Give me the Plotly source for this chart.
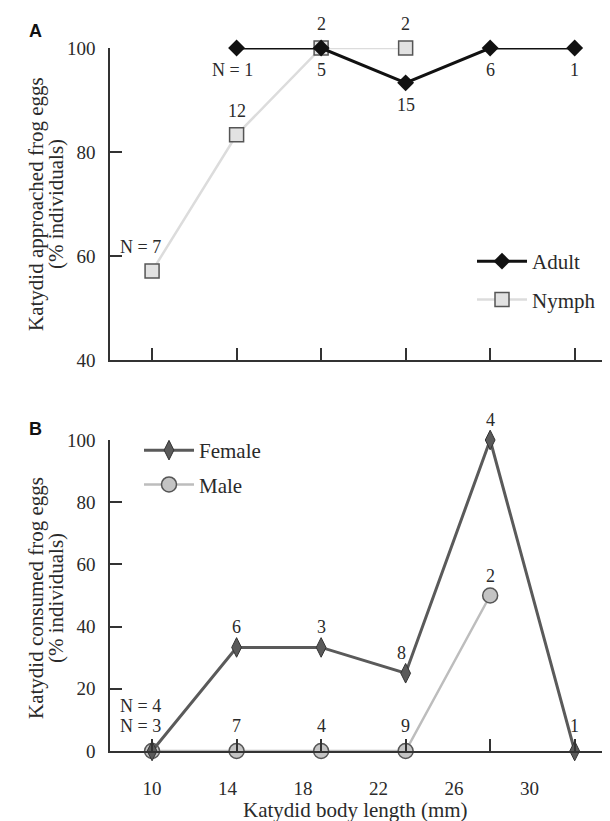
import plotly.graph_objects as go

# ---- data ----
size_pos = [10, 14.48, 18.96, 23.44, 27.92, 32.40]      # x positions of the size classes (mm scale)
tick_mm = [10, 14, 18, 22, 26, 30]                     # x tick labels (panel B)

adult_pct = [None, 100, 100, 93.3, 100, 100]
adult_n = [None, "N = 1", "5", "15", "6", "1"]
nymph_pct = [57.1, 83.3, 100, 100, None, None]
nymph_n = ["N = 7", "12", "2", "2", None, None]

female_pct = [0, 33.3, 33.3, 25, 100, 0]
female_n = ["N = 4", "6", "3", "8", "4", "1"]
male_pct = [0, 0, 0, 0, 50, None]
male_n = ["N = 3", "7", "4", "9", "2", None]

FONT = "Liberation Serif, Times New Roman, serif"
TXT = "#2a2a2a"
AX = "#333333"

W, H = 610, 821
L, R, T, B = 102, 2, 40, 78
PH = H - T - B  # 703

def py(y):  # pixel y -> paper
    return (H - B - y) / PH

def px(x):
    return (x - L) / (W - L - R)

fig = go.Figure()

# Panel A
fig.add_trace(go.Scatter(x=size_pos, y=nymph_pct, name="Nymph\u00a0\u00a0\u00a0", mode="lines+markers",
                         line=dict(color="#dcdcdc", width=2.5),
                         marker=dict(symbol="square", size=14, color="#e2e2e2", line=dict(color="#555", width=1.5)),
                         xaxis="x", yaxis="y", legend="legend", legendrank=2, legendgroup="n", cliponaxis=False))
fig.add_trace(go.Scatter(x=size_pos, y=adult_pct, name="Adult", mode="lines+markers",
                         line=dict(color="#111111", width=3),
                         marker=dict(symbol="diamond", size=13, color="#111111"),
                         xaxis="x", yaxis="y", legend="legend", legendrank=1, legendgroup="a", cliponaxis=False))

# Panel B
fig.add_trace(go.Scatter(x=size_pos, y=male_pct, name="Male", mode="lines+markers",
                         line=dict(color="#bdbdbd", width=2.5),
                         marker=dict(symbol="circle", size=15, color="#c4c4c4", line=dict(color="#555", width=1.5)),
                         xaxis="x2", yaxis="y2", legend="legend2", legendrank=2, legendgroup="m", cliponaxis=False))
fig.add_trace(go.Scatter(x=size_pos, y=female_pct, name="Female", mode="lines+markers",
                         line=dict(color="#5a5a5a", width=3),
                         marker=dict(symbol="diamond-tall", size=14, color="#5a5a5a", line=dict(color="#333", width=1)),
                         xaxis="x2", yaxis="y2", legend="legend2", legendrank=1, legendgroup="f", cliponaxis=False))

ann = []
def lab(x, y, t, xs, ys, xr, yr):
    ann.append(dict(x=x, y=y, text=t, xref=xr, yref=yr, showarrow=False, xshift=xs, yshift=ys,
                    xanchor="center", yanchor="middle",
                    font=dict(family=FONT, size=18, color=TXT)))

for x, y, t in zip(size_pos, adult_pct, adult_n):
    if t:
        lab(x, y, t, -4 if t.startswith("N") else 0, -22, "x", "y")
for x, y, t in zip(size_pos, nymph_pct, nymph_n):
    if t:
        lab(x, y, t, -12 if t.startswith("N") else 0, 24, "x", "y")
for x, y, t in zip(size_pos, female_pct, female_n):
    if t:
        ys = 45 if y == 0 and t.startswith("N") else (25 if y == 0 else 20)
        xs = -12 if t.startswith("N") else (-4 if t == "8" else 0)
        lab(x, y, t, xs, ys, "x2", "y2")
for x, y, t in zip(size_pos, male_pct, male_n):
    if t:
        ys = 25 if y == 0 else 20
        xs = -12 if t.startswith("N") else 0
        lab(x, y, t, xs, ys, "x2", "y2")

# panel letters
for t, yy in [("A", 23), ("B", 421)]:
    ann.append(dict(x=px(27), y=py(yy), xref="paper", yref="paper", text="<b>%s</b>" % t, showarrow=False,
                    xanchor="center", yanchor="middle",
                    font=dict(family="Liberation Sans, Arial, sans-serif", size=18, color="#111")))

# y titles
for t1, t2, yc in [("Katydid approached frog eggs", "(% individuals)", 196),
                   ("Katydid consumed frog eggs", "(% individuals)", 590)]:
    for t, xc in [(t1, 28), (t2, 48)]:
        ann.append(dict(x=px(xc), y=py(yc), xref="paper", yref="paper", text=t, textangle=-90,
                        xanchor="center", yanchor="middle",
                        showarrow=False, font=dict(family=FONT, size=21, color=TXT)))
# x title
ann.append(dict(x=px(347), y=py(802), xref="paper", yref="paper", text="Katydid body length (mm)",
                xanchor="center", yanchor="middle",
                showarrow=False, font=dict(family=FONT, size=21, color=TXT)))

xr = [7.77, 34.59]
axis_common = dict(showline=True, linecolor=AX, linewidth=1.5, showgrid=False, zeroline=False, automargin=False)

fig.update_layout(
    width=W, height=H, margin=dict(l=L, r=R, t=T, b=B, autoexpand=False),
    paper_bgcolor="white", plot_bgcolor="white",
    font=dict(family=FONT, size=18, color=TXT),
    xaxis=dict(domain=[0, 1], range=xr, anchor="y", tickmode="array", tickvals=size_pos,
               ticks="inside", ticklen=12, tickwidth=1.5, tickcolor=AX, showticklabels=False, **axis_common),
    yaxis=dict(domain=[py(352), 1], range=[40, 100], anchor="x", tickvals=[40, 60, 80, 100],
               ticks="inside", ticklen=12, tickwidth=1.5, tickcolor=AX, ticklabelstandoff=9,
               tickfont=dict(family=FONT, size=19, color=TXT), **axis_common),
    xaxis2=dict(domain=[0, 1], range=xr, anchor="y2", tickmode="array", tickvals=tick_mm,
                ticktext=[str(v) for v in tick_mm], ticks="", ticklabelstandoff=19,
                minor=dict(tickmode="array", tickvals=size_pos, ticks="inside", ticklen=12,
                           tickwidth=1.5, tickcolor=AX),
                tickfont=dict(family=FONT, size=19, color=TXT), **axis_common),
    yaxis2=dict(domain=[0, py(432)], range=[0, 100], anchor="x2", tickvals=[0, 20, 40, 60, 80, 100],
                ticks="inside", ticklen=12, tickwidth=1.5, tickcolor=AX, ticklabelstandoff=9,
                tickfont=dict(family=FONT, size=19, color=TXT), **axis_common),
    legend=dict(x=1, y=py(233), xanchor="right", yanchor="top", bgcolor="rgba(0,0,0,0)",
                font=dict(family=FONT, size=21, color=TXT), tracegroupgap=8, itemwidth=50),
    legend2=dict(x=px(131), y=py(422), xanchor="left", yanchor="top", bgcolor="rgba(0,0,0,0)",
                 font=dict(family=FONT, size=21, color=TXT), tracegroupgap=4, itemwidth=50),
    annotations=ann, showlegend=True,
)

fig.write_html("out.html")
